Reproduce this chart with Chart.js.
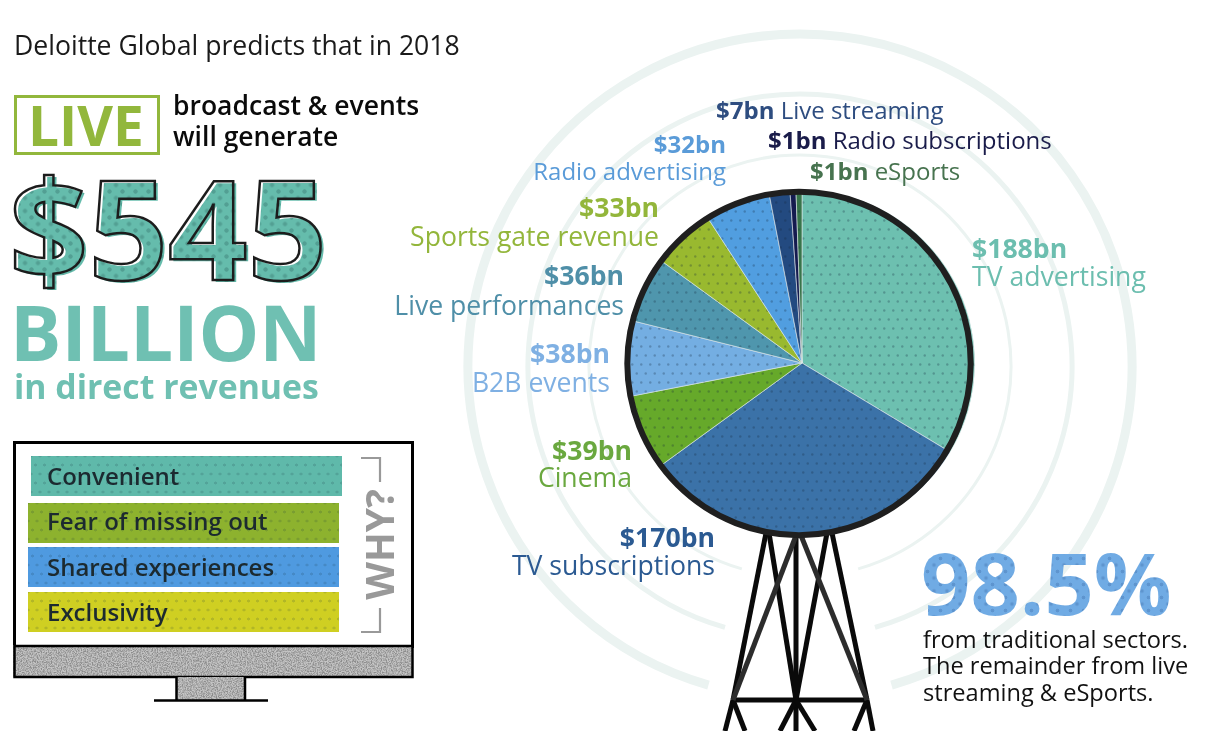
<!DOCTYPE html>
<html>
<head>
<meta charset="utf-8">
<script src="https://cdn.jsdelivr.net/npm/chart.js@4"></script>
<style>
html,body{margin:0;padding:0;background:#fff;overflow:hidden}
body{width:1227px;height:731px;position:relative;font-family:"Open Sans",sans-serif;color:#111}
svg,canvas{position:absolute;left:0;top:0}
.t{position:absolute;white-space:nowrap;line-height:1}
.dots{background-image:radial-gradient(circle,rgba(20,50,60,.16) 1.2px,transparent 1.8px),radial-gradient(circle,rgba(20,50,60,.16) 1.2px,transparent 1.8px);background-size:9px 18px;background-position:0 0,4.5px 9px}
#big::before{content:attr(data-t);position:absolute;left:3px;top:2px;z-index:-1;color:transparent;-webkit-text-stroke:0;background-color:#65bcac;-webkit-background-clip:text;background-clip:text;
 background-image:radial-gradient(circle,rgba(20,60,60,.22) 1.8px,transparent 2.5px),radial-gradient(circle,rgba(20,60,60,.22) 1.8px,transparent 2.5px);background-size:13px 13px;background-position:0 0,6.5px 6.5px}
#big{-webkit-text-stroke:2.5px #1c1c1c;z-index:1;isolation:isolate}
#pct{background-color:#70abe4;-webkit-background-clip:text;background-clip:text;background-image:radial-gradient(circle,rgba(30,70,130,.22) 1.5px,transparent 2.2px),radial-gradient(circle,rgba(30,70,130,.22) 1.5px,transparent 2.2px);background-size:13px 13px;background-position:0 0,6.5px 6.5px}
.bar{position:absolute;width:311px;height:40px}
.bar span{position:absolute;top:0;line-height:40px;font-size:24px;font-weight:600;color:#1c2a30}
</style>
</head>
<body>
<svg id="back" width="1227" height="731">
  <defs>
    <filter id="noise" x="0" y="0" width="100%" height="100%" color-interpolation-filters="sRGB">
      <feTurbulence type="fractalNoise" baseFrequency="0.8" numOctaves="2" seed="4" result="n"/>
      <feColorMatrix in="n" values="0 0 0 0 0.55  0 0 0 0 0.55  0 0 0 0 0.55  3 0 0 0 -1.1" result="m"/>
      <feMerge><feMergeNode in="SourceGraphic"/><feMergeNode in="m"/></feMerge>
    </filter>
  </defs>
  <g fill="none" stroke="#ebf3f1" id="rings"></g>
  <g stroke="#0a0a0a" stroke-width="5" fill="none">
    <line x1="766" y1="533" x2="733" y2="700"/><line x1="733" y1="700" x2="725" y2="731"/>
    <line x1="832" y1="533" x2="867" y2="700"/><line x1="867" y1="700" x2="873" y2="731"/>
    <line x1="827" y1="533" x2="796" y2="700"/><line x1="769" y1="533" x2="796" y2="700"/>
    <line x1="796" y1="533" x2="796" y2="731"/>
    <line x1="733" y1="700" x2="867" y2="700"/>
    <line x1="733" y1="700" x2="745" y2="731"/><line x1="796" y1="700" x2="780" y2="731"/>
    <line x1="796" y1="700" x2="815" y2="731"/><line x1="867" y1="700" x2="854" y2="731"/>
    <line x1="797" y1="533" x2="733" y2="700" stroke="#2c2c2c"/><line x1="800" y1="533" x2="867" y2="700" stroke="#2c2c2c"/>
  </g>
  <rect x="14.5" y="442.5" width="398" height="204" fill="#fff" stroke="#000" stroke-width="3"/>
  <rect x="13" y="645" width="400" height="32" fill="#c4c4c4" filter="url(#noise)"/>
  <rect x="14.5" y="646" width="398" height="31" fill="none" stroke="#000" stroke-width="2.5"/>
  <rect x="176" y="677" width="68" height="23" fill="#c4c4c4" filter="url(#noise)"/>
  <path d="M176.5 677V700M245 677V700M154 700.5H268" stroke="#000" stroke-width="2.5" fill="none"/>
  <path d="M361 458H380V482M361 632H380V608" stroke="#999" stroke-width="2.2" fill="none"/>
  <rect x="15.5" y="96.5" width="143" height="57" fill="none" stroke="#92b73c" stroke-width="3"/>
</svg>
<canvas id="pie" width="1227" height="731"></canvas>
<div id="texts"></div>
<script>
const categories = ['TV advertising', 'TV subscriptions', 'Cinema', 'B2B events', 'Live performances', 'Sports gate revenue', 'Radio advertising', 'Live streaming', 'Radio subscriptions', 'eSports'];
const revenues = [188, 170, 39, 38, 36, 33, 32, 7, 1, 1];
// slice sizes as drawn in the picture (degrees), the small ones are not to scale with the revenues
const sliceDegrees = [121, 113, 25, 25, 22, 21, 22, 7, 2, 2];
const sliceColors = ['#6dc0b0', '#3b72a8', '#66a92a', '#74aee2', '#4f96ad', '#99b92f', '#519ee0', '#234a80', '#151b50', '#37744a'];
const labelColors = ['#6cbeaf', '#2b5a92', '#6aa83f', '#7fb0e3', '#4f8fa8', '#93b63b', '#5a9bd8', '#2e4d80', '#1a1c4a', '#47734f'];
// x, y of value line, y of name line, side, font size
const labelSpots = [[972, 248, 276, 'l', 26.6], [715, 537, 565, 'r', 26.6], [632, 450, 477, 'r', 26.6], [610, 353, 382, 'r', 26.6], [624, 275, 305, 'r', 26.6], [659, 207, 236, 'r', 26.6], [726, 144, 171, 'r', 24], [716, 110, 110, 'i', 24], [768, 140, 140, 'i', 24], [810, 171, 171, 'i', 24]];
const reasons = ['Convenient', 'Fear of missing out', 'Shared experiences', 'Exclusivity'];
const reasonColors = ['#5fb9aa', '#8db22e', '#4f9ae0', '#cfcf22'];
const reasonSpots = [[31, 456, 0], [28, 503, -2], [28, 547, 0], [28, 592, 0]];
const noteLines = ['from traditional sectors.', 'The remainder from live', 'streaming & eSports.'];

const texts = document.getElementById('texts');
function addText(str, x, y, size, weight, color, side, id) {
    const d = document.createElement('div');
    d.className = 't';
    d.textContent = str;
    d.style.fontSize = size + 'px';
    d.style.fontWeight = weight;
    d.style.color = color;
    d.style.top = (y - size / 2) + 'px';
    if (side === 'r') d.style.right = (1227 - x) + 'px';
    else d.style.left = x + 'px';
    if (id) d.id = id;
    texts.appendChild(d);
    return d;
}

addText('Deloitte Global predicts that in 2018', 14, 45, 26.6, 400, '#1a1a1a');
addText('LIVE', 28, 124, 55, 700, '#92b73c');
addText('broadcast & events', 173, 105, 26.5, 600, '#0a0a0a');
addText('will generate', 173, 136, 26.5, 600, '#0a0a0a');
const big = addText('$545', 9, 226, 139, 700, 'transparent', 'l', 'big');
big.dataset.t = '$545';
addText('BILLION', 10, 331, 76.5, 700, '#6fc0b2');
addText('in direct revenues', 14, 387, 33.8, 700, '#6fc0b2');
addText('98.5%', 921, 582, 86.4, 700, 'transparent', 'l', 'pct');
noteLines.forEach(function (line, i) {
    addText(line, 923, [640, 666, 693][i], 23.6, 400, '#111');
});

categories.forEach(function (name, i) {
    const s = labelSpots[i];
    const val = '$' + revenues[i] + 'bn';
    if (s[3] === 'i') {
        const d = addText('', s[0], s[1], s[4], 400, labelColors[i]);
        d.innerHTML = '<b>' + val + '</b> ' + name;
    } else {
        addText(val, s[0], s[1], s[4], 700, labelColors[i], s[3]);
        addText(name, s[0], s[2], s[4], 400, labelColors[i], s[3]);
    }
});

reasons.forEach(function (r, i) {
    const b = document.createElement('div');
    b.className = 'bar dots';
    b.style.left = reasonSpots[i][0] + 'px';
    b.style.top = reasonSpots[i][1] + 'px';
    b.style.backgroundColor = reasonColors[i];
    const sp = document.createElement('span');
    sp.textContent = r;
    sp.style.left = (47 - reasonSpots[i][0]) + 'px';
    sp.style.top = reasonSpots[i][2] + 'px';
    b.appendChild(sp);
    texts.appendChild(b);
});
const why = addText('WHY?', 378, 544, 39, 700, '#999');
why.style.transform = 'translateX(-50%) rotate(-90deg)';

// radio rings behind the pie, open at the bottom for the mast
const rings = document.getElementById('rings');
[[332, 9], [272, 5], [211, 3]].forEach(function (r) {
    const a = 16 * Math.PI / 180;
    const dx = r[0] * Math.sin(a), dy = r[0] * Math.cos(a);
    const p = document.createElementNS('http://www.w3.org/2000/svg', 'path');
    p.setAttribute('d', 'M' + (800 - dx) + ' ' + (366 + dy) + 'A' + r[0] + ' ' + r[0] + ' 0 1 1 ' + (800 + dx) + ' ' + (366 + dy));
    p.setAttribute('stroke-width', r[1]);
    rings.appendChild(p);
});

function dotted(color) {
    const c = document.createElement('canvas');
    c.width = 9;
    c.height = 18;
    const x = c.getContext('2d');
    x.fillStyle = color;
    x.fillRect(0, 0, 9, 18);
    x.fillStyle = 'rgba(20,40,60,.28)';
    [[2.25, 4.5], [6.75, 13.5]].forEach(function (p) {
        x.beginPath();
        x.arc(p[0], p[1], 1.2, 0, Math.PI * 2);
        x.fill();
    });
    return x.createPattern(c, 'repeat');
}

const ringOutline = {
    id: 'ringOutline',
    afterDatasetsDraw(chart) {
        const arc = chart.getDatasetMeta(0).data[0];
        const ctx = chart.ctx;
        ctx.save();
        ctx.strokeStyle = '#1f1f1f';
        ctx.lineWidth = 6;
        ctx.beginPath();
        ctx.arc(arc.x - 3, arc.y + 0.5, arc.outerRadius - 1, 0, Math.PI * 2);
        ctx.stroke();
        ctx.restore();
    }
};

const ctx = document.getElementById('pie').getContext('2d');
const myChart = new Chart(ctx, {
    type: 'pie',
    data: {
        labels: categories,
        datasets: [{
            data: sliceDegrees,
            backgroundColor: sliceColors.map(dotted),
            borderColor: '#dfe8ea',
            borderWidth: 0.6
        }]
    },
    options: {
        responsive: false,
        animation: false,
        layout: { padding: { left: 629, right: 252, top: 190, bottom: 195 } },
        plugins: { legend: { display: false }, tooltip: { enabled: false } }
    },
    plugins: [ringOutline]
});
</script>
</body>
</html>
